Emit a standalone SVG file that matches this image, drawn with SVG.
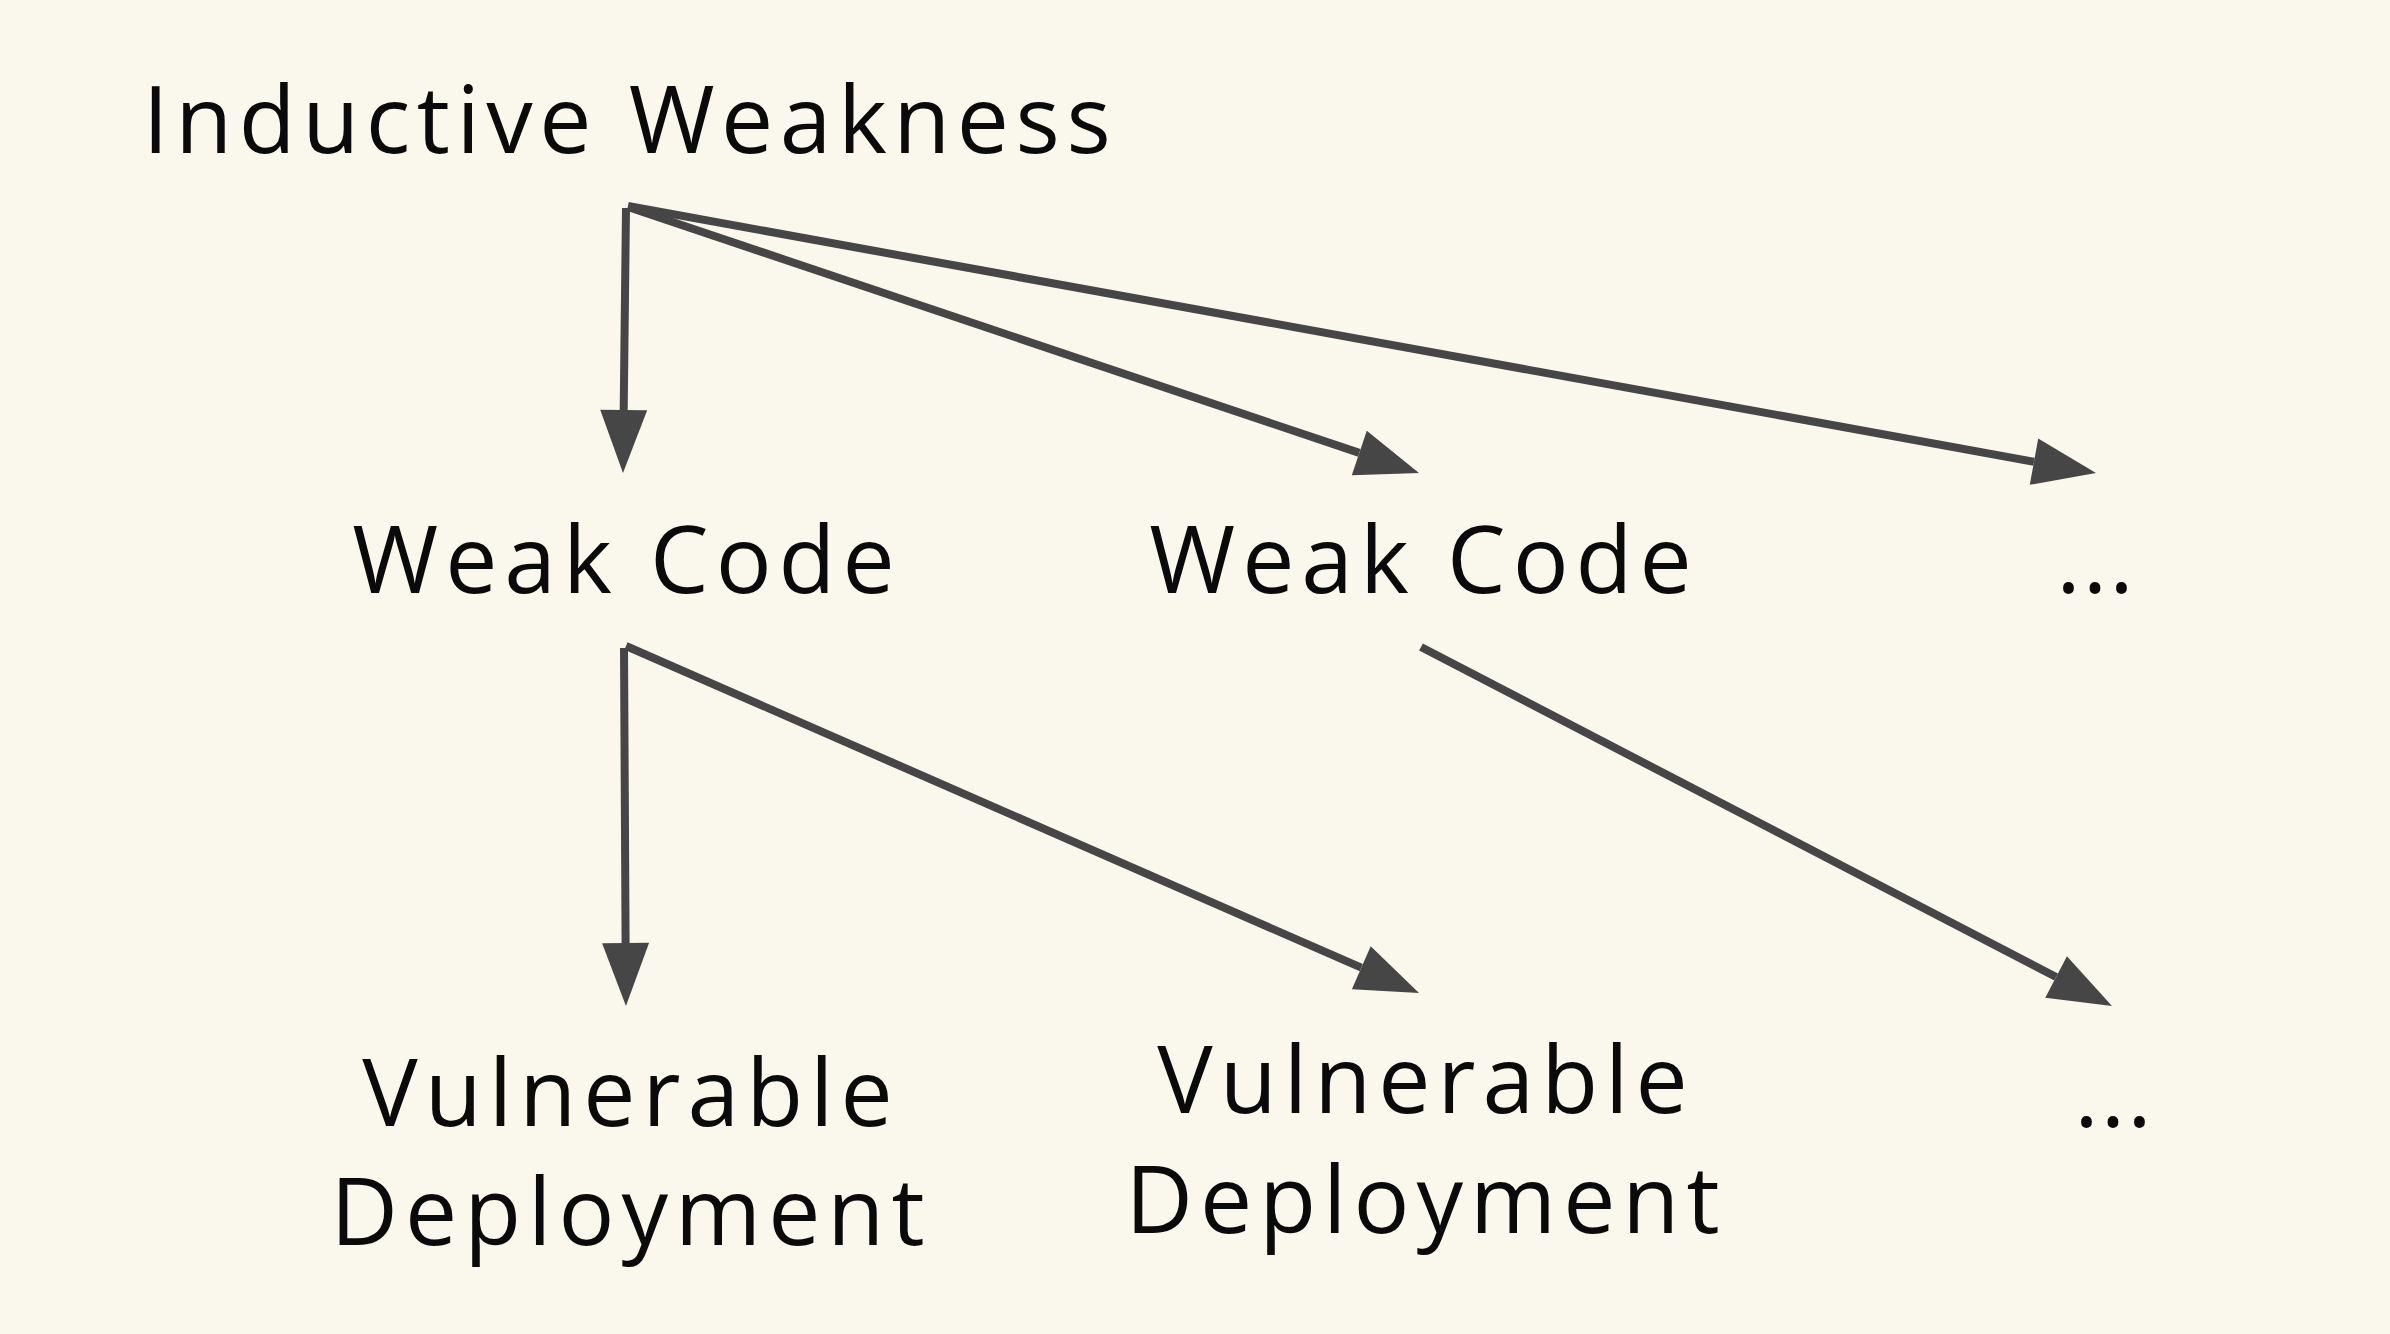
<svg xmlns="http://www.w3.org/2000/svg" width="2390" height="1334" viewBox="0 0 2390 1334">
<style>
.lbl{font-family:"Open Sans","Liberation Sans",sans-serif;font-size:93px;letter-spacing:7px;fill:#0a0a0a;text-anchor:middle}
.dots{letter-spacing:2px}
.edge{stroke:#464646;stroke-width:8;fill:none;marker-end:url(#ah)}
</style>
<defs>
<marker id="ah" markerUnits="userSpaceOnUse" viewBox="0 0 63 47" markerWidth="63" markerHeight="47" refX="0" refY="23.5" orient="auto" overflow="visible">
<path d="M0,0 L63,23.5 L0,47 Z" fill="#464646"/>
</marker>
</defs>
<rect width="2390" height="1334" fill="#faf8ec"/>
<g id="connectors">
<line class="edge" x1="626" y1="208" x2="623.7" y2="410"/>
<line class="edge" x1="628" y1="207" x2="1359.3" y2="452.9"/>
<line class="edge" x1="628" y1="206" x2="2034" y2="461.7"/>
<line class="edge" x1="624" y1="648" x2="625.6" y2="943"/>
<line class="edge" x1="626" y1="646" x2="1361.3" y2="967.7"/>
<line class="edge" x1="1421" y1="647" x2="2056.1" y2="977"/>
</g>
<g id="n-inductive"><text class="lbl" x="630" y="153" style="letter-spacing:6.5px">Inductive Weakness</text></g>
<g id="n-weak1"><text class="lbl" x="627" y="593">Weak Code</text></g>
<g id="n-weak2"><text class="lbl" x="1424" y="593">Weak Code</text></g>
<g id="n-more1"><text class="lbl dots" x="2096" y="593">...</text></g>
<g id="n-vuln1"><text class="lbl" x="631" y="1126">Vulnerable</text><text class="lbl" x="631" y="1245">Deployment</text></g>
<g id="n-vuln2"><text class="lbl" x="1426" y="1113">Vulnerable</text><text class="lbl" x="1426" y="1233">Deployment</text></g>
<g id="n-more2"><text class="lbl dots" x="2114" y="1127">...</text></g>
</svg>
